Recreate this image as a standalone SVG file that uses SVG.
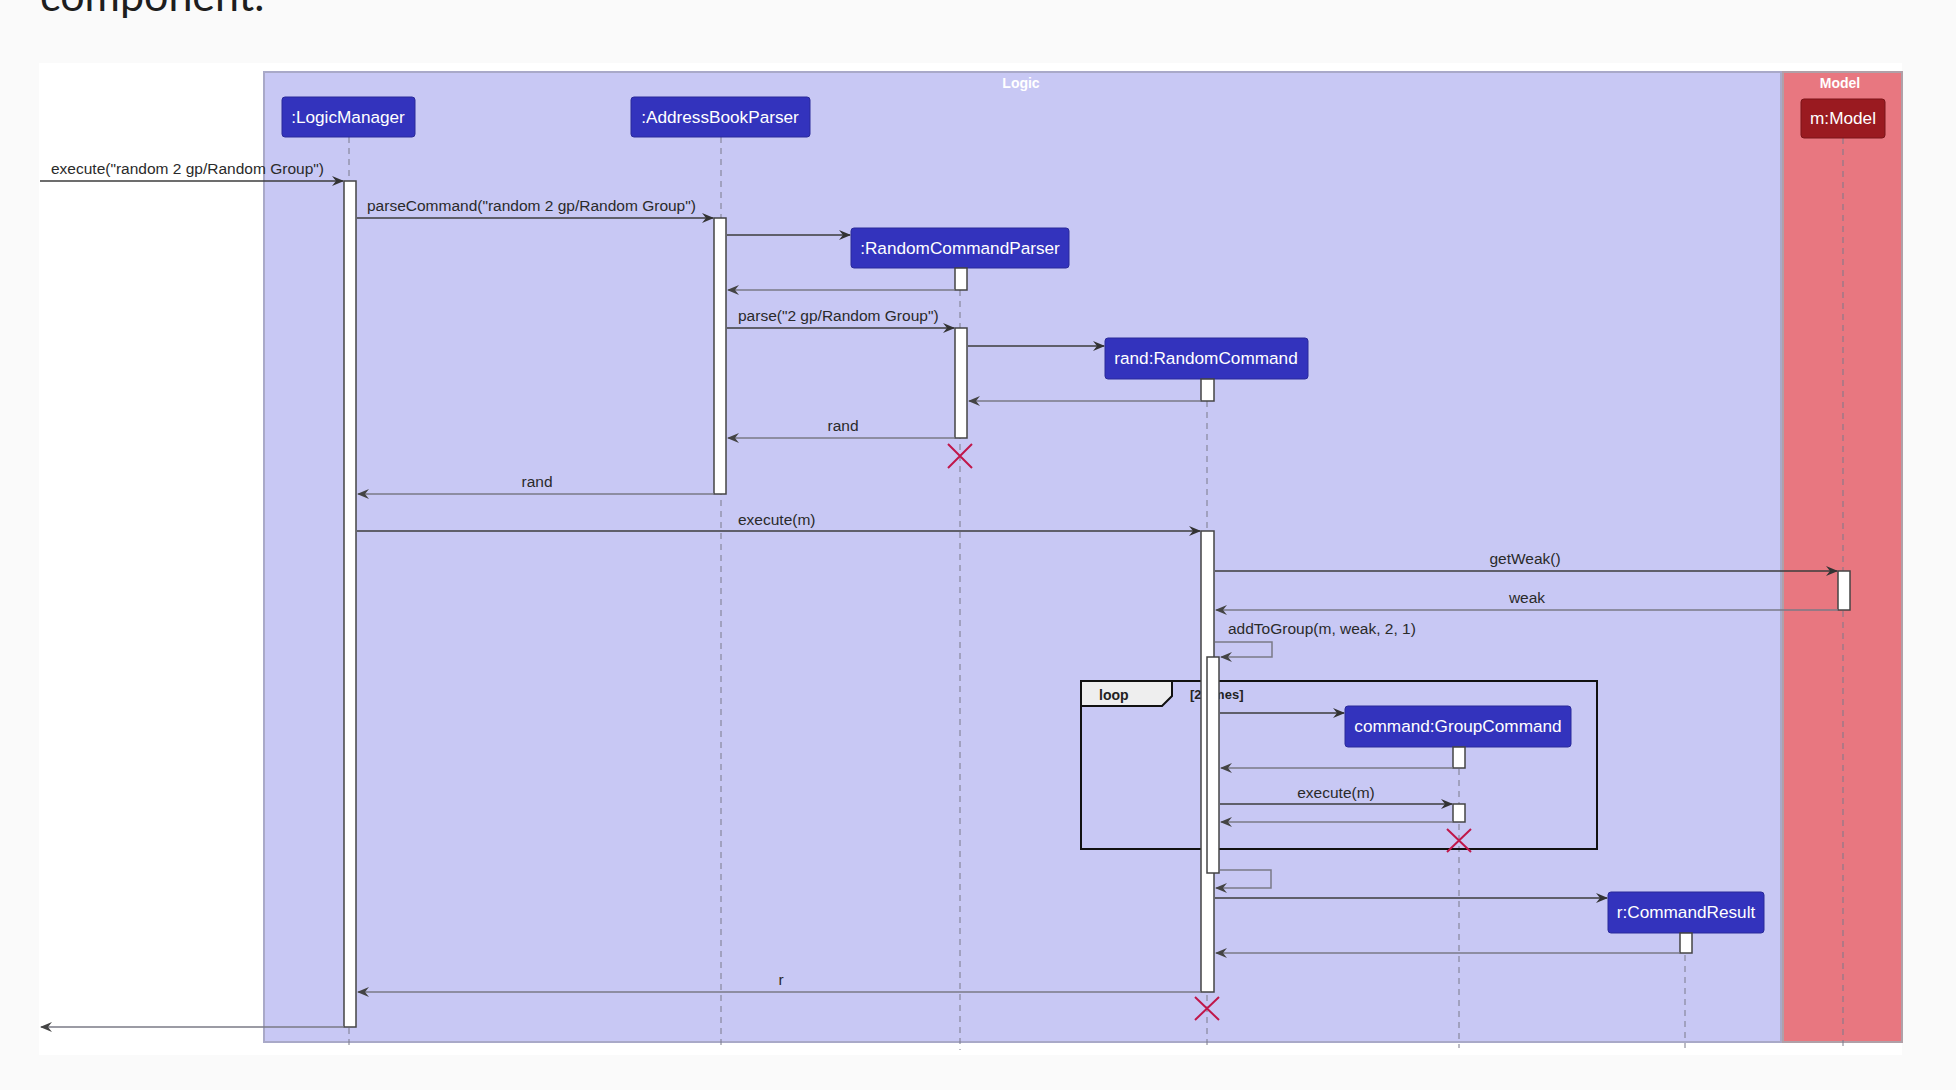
<svg xmlns="http://www.w3.org/2000/svg" width="1956" height="1090" viewBox="0 0 1956 1090">
<defs>
<style>
.lbl{font-family:"Liberation Sans",Arial,sans-serif;font-size:15.5px;fill:#2a2a2a}
.ptxt{font-family:"Liberation Sans",Arial,sans-serif;font-size:17.2px;fill:#ffffff;text-anchor:middle}
.ftitle{font-family:"Liberation Sans",Arial,sans-serif;font-size:14px;font-weight:bold;fill:#ffffff;text-anchor:middle}
.pbox{fill:#3333bd;stroke:#2a2a9a;stroke-width:1}
.life{stroke:#7a7a8a;stroke-width:1;stroke-dasharray:6,5}
.act{fill:#ffffff;stroke:#444444;stroke-width:1.5}
.call{stroke:#3c3c3c;stroke-width:1.5;fill:none}
.ret{stroke:#7a7a86;stroke-width:1.5;fill:none}
.kill{stroke:#c0174a;stroke-width:2}
</style>
<marker id="ah" viewBox="0 0 12 10" refX="11" refY="5" markerWidth="12" markerHeight="10" markerUnits="userSpaceOnUse" orient="auto">
<path d="M0,0 L12,5 L0,10 L4,5 Z" fill="#333333"/>
</marker>
<marker id="rh" viewBox="0 0 12 10" refX="11" refY="5" markerWidth="12" markerHeight="10" markerUnits="userSpaceOnUse" orient="auto">
<path d="M0,0 L12,5 L0,10 L4,5 Z" fill="#444444"/>
</marker>
</defs>
<rect x="0" y="0" width="1956" height="1090" fill="#fafafa"/>
<text x="40" y="11" font-family="Lato,'Open Sans',sans-serif" font-size="43" fill="#1e1e1e">component.</text>
<rect x="39" y="63" width="1863" height="992" fill="#ffffff"/>

<g id="frame-logic">
<rect x="264" y="72" width="1517" height="970" fill="#c8c8f4" stroke="#a9a9c8" stroke-width="2"/>
<text class="ftitle" x="1021" y="88">Logic</text>
</g>
<g id="frame-model">
<rect x="1783" y="72" width="119" height="970" fill="#e87780" stroke="#b0a0a8" stroke-width="2"/>
<text class="ftitle" x="1840" y="88">Model</text>
</g>

<g id="lifelines">
<line class="life" x1="349" y1="137" x2="349" y2="1048"/>
<line class="life" x1="721" y1="137" x2="721" y2="1048"/>
<line class="life" x1="960" y1="268" x2="960" y2="1050"/>
<line class="life" x1="1207" y1="379" x2="1207" y2="1048"/>
<line class="life" x1="1459" y1="747" x2="1459" y2="1048"/>
<line class="life" x1="1685" y1="933" x2="1685" y2="1048"/>
<line class="life" x1="1843" y1="138" x2="1843" y2="1048"/>
</g>

<g id="loop-frame">
<rect x="1081" y="681" width="516" height="168" fill="none" stroke="#111111" stroke-width="2"/>
<path d="M1081,681 L1172,681 L1172,696 L1162,706 L1081,706 Z" fill="#eeeeee" stroke="#111111" stroke-width="2"/>
<text x="1099" y="700" font-family="Liberation Sans,Arial,sans-serif" font-size="14" font-weight="bold" fill="#222">loop</text>
<text x="1190" y="699" font-family="Liberation Sans,Arial,sans-serif" font-size="13" font-weight="bold" fill="#222">[2 times]</text>
</g>

<g id="p-logicmanager">
<rect class="pbox" x="282" y="97" width="133" height="40" rx="3"/>
<text class="ptxt" x="348" y="123">:LogicManager</text>
</g>
<g id="p-addressbookparser">
<rect class="pbox" x="631" y="97" width="179" height="40" rx="3"/>
<text class="ptxt" x="720" y="123">:AddressBookParser</text>
</g>
<g id="p-randomcommandparser">
<rect class="pbox" x="851" y="228" width="218" height="40" rx="3"/>
<text class="ptxt" x="960" y="254">:RandomCommandParser</text>
</g>
<g id="p-randomcommand">
<rect class="pbox" x="1105" y="338" width="203" height="41" rx="3"/>
<text class="ptxt" x="1206" y="364">rand:RandomCommand</text>
</g>
<g id="p-groupcommand">
<rect class="pbox" x="1345" y="706" width="226" height="41" rx="3"/>
<text class="ptxt" x="1458" y="732">command:GroupCommand</text>
</g>
<g id="p-commandresult">
<rect class="pbox" x="1608" y="892" width="156" height="41" rx="3"/>
<text class="ptxt" x="1686" y="918">r:CommandResult</text>
</g>
<g id="p-model">
<rect x="1801" y="99" width="84" height="39" rx="3" fill="#9a1a20" stroke="#7a1418"/>
<text class="ptxt" x="1843" y="124">m:Model</text>
</g>

<g id="activations">
<rect class="act" x="344" y="181" width="12" height="846"/>
<rect class="act" x="714" y="218" width="12" height="276"/>
<rect class="act" x="955" y="268" width="12" height="22"/>
<rect class="act" x="955" y="328" width="12" height="110"/>
<rect class="act" x="1201" y="379" width="13" height="22"/>
<rect class="act" x="1201" y="531" width="13" height="461"/>
<rect class="act" x="1838" y="571" width="12" height="39"/>
<rect class="act" x="1207" y="657" width="12" height="216"/>
<rect class="act" x="1453" y="747" width="12" height="21"/>
<rect class="act" x="1453" y="804" width="12" height="18"/>
<rect class="act" x="1680" y="933" width="12" height="20"/>
</g>

<g id="connectors">
<line class="call" x1="40" y1="181" x2="343" y2="181" marker-end="url(#ah)"/>
<text class="lbl" x="51" y="174">execute("random 2 gp/Random Group")</text>
<line class="call" x1="357" y1="218" x2="713" y2="218" marker-end="url(#ah)"/>
<text class="lbl" x="367" y="211">parseCommand("random 2 gp/Random Group")</text>
<line class="call" x1="727" y1="235" x2="850" y2="235" marker-end="url(#ah)"/>
<line class="ret" x1="955" y1="290" x2="728" y2="290" marker-end="url(#rh)"/>
<line class="call" x1="727" y1="328" x2="954" y2="328" marker-end="url(#ah)"/>
<text class="lbl" x="738" y="321">parse("2 gp/Random Group")</text>
<line class="call" x1="968" y1="346" x2="1104" y2="346" marker-end="url(#ah)"/>
<line class="ret" x1="1201" y1="401" x2="969" y2="401" marker-end="url(#rh)"/>
<line class="ret" x1="955" y1="438" x2="728" y2="438" marker-end="url(#rh)"/>
<text class="lbl" x="843" y="431" text-anchor="middle">rand</text>
<line class="ret" x1="714" y1="494" x2="358" y2="494" marker-end="url(#rh)"/>
<text class="lbl" x="537" y="487" text-anchor="middle">rand</text>
<line class="call" x1="357" y1="531" x2="1200" y2="531" marker-end="url(#ah)"/>
<text class="lbl" x="738" y="525">execute(m)</text>
<line class="call" x1="1215" y1="571" x2="1837" y2="571" marker-end="url(#ah)"/>
<text class="lbl" x="1525" y="564" text-anchor="middle">getWeak()</text>
<line class="ret" x1="1838" y1="610" x2="1216" y2="610" marker-end="url(#rh)"/>
<text class="lbl" x="1527" y="603" text-anchor="middle">weak</text>
<polyline class="ret" points="1215,642 1272,642 1272,657 1221,657" marker-end="url(#rh)"/>
<text class="lbl" x="1228" y="634">addToGroup(m, weak, 2, 1)</text>
<line class="call" x1="1220" y1="713" x2="1344" y2="713" marker-end="url(#ah)"/>
<line class="ret" x1="1453" y1="768" x2="1221" y2="768" marker-end="url(#rh)"/>
<line class="call" x1="1220" y1="804" x2="1452" y2="804" marker-end="url(#ah)"/>
<text class="lbl" x="1336" y="798" text-anchor="middle">execute(m)</text>
<line class="ret" x1="1453" y1="822" x2="1221" y2="822" marker-end="url(#rh)"/>
<polyline class="ret" points="1220,870 1271,870 1271,888 1216,888" marker-end="url(#rh)"/>
<line class="call" x1="1215" y1="898" x2="1607" y2="898" marker-end="url(#ah)"/>
<line class="ret" x1="1680" y1="953" x2="1216" y2="953" marker-end="url(#rh)"/>
<line class="ret" x1="1201" y1="992" x2="358" y2="992" marker-end="url(#rh)"/>
<text class="lbl" x="781" y="985" text-anchor="middle">r</text>
<line class="ret" x1="344" y1="1027" x2="41" y2="1027" marker-end="url(#rh)"/>
</g>

<g id="destroys">
<path class="kill" d="M948,444 L972,468 M972,444 L948,468"/>
<path class="kill" d="M1447,829 L1471,852 M1471,829 L1447,852"/>
<path class="kill" d="M1195,997 L1219,1020 M1219,997 L1195,1020"/>
</g>
</svg>
